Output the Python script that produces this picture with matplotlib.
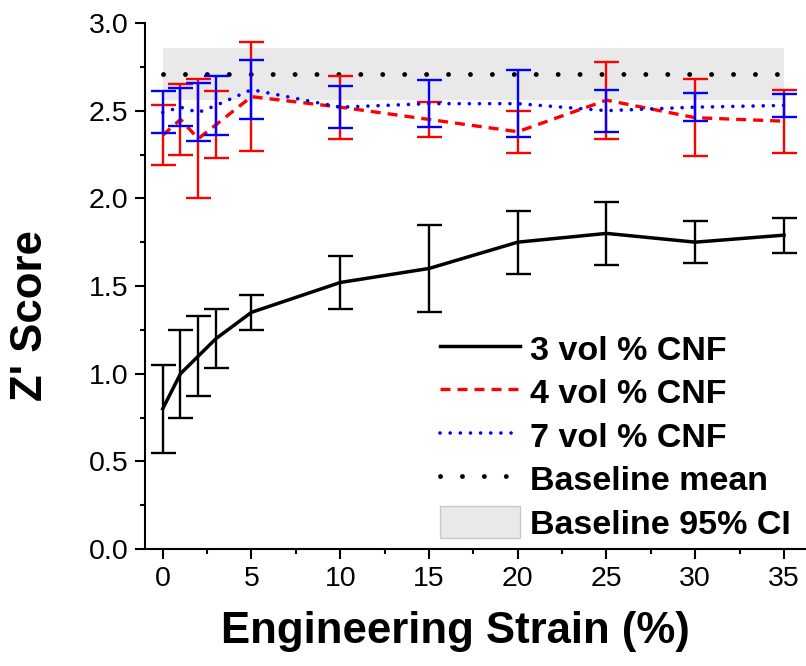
import matplotlib
matplotlib.use('Agg')
import matplotlib.pyplot as plt
from matplotlib.lines import Line2D
from matplotlib.patches import Patch
from matplotlib.ticker import MultipleLocator, FormatStrFormatter

plt.rcParams['font.family'] = ['Liberation Sans', 'DejaVu Sans']

# strain points (%)
strain = [0, 1, 2, 3, 5, 10, 15, 20, 25, 30, 35]

# 3 vol % CNF
z3 = [0.80, 1.00, 1.10, 1.20, 1.35, 1.52, 1.60, 1.75, 1.80, 1.75, 1.79]
e3 = [0.25, 0.25, 0.23, 0.17, 0.10, 0.15, 0.25, 0.18, 0.18, 0.12, 0.10]

# 4 vol % CNF
z4 = [2.36, 2.45, 2.34, 2.42, 2.58, 2.52, 2.45, 2.38, 2.56, 2.46, 2.44]
e4 = [0.17, 0.20, 0.34, 0.19, 0.31, 0.18, 0.10, 0.12, 0.22, 0.22, 0.18]

# 7 vol % CNF
z7 = [2.49, 2.52, 2.49, 2.53, 2.62, 2.52, 2.54, 2.54, 2.50, 2.52, 2.53]
e7 = [0.12, 0.11, 0.165, 0.17, 0.17, 0.12, 0.135, 0.19, 0.12, 0.08, 0.065]

# baseline
base_x = [0, 35]
base_mean = 2.71
base_lo = 2.56
base_hi = 2.86

labels = ['3 vol % CNF', '4 vol % CNF', '7 vol % CNF', 'Baseline mean', 'Baseline 95% CI']

fig = plt.figure(figsize=(8.06, 6.66), dpi=100)
ax = fig.add_axes([145/806, 1-549/666, (806-145)/806, (549-23)/666])

gray = '#e9e9e9'
red_ls = (0, (3.0, 2.1))
blue_ls = (0, (0.01, 2.8))
base_ls = (0, (0.01, 4.5))

ax.fill_between(base_x, base_lo, base_hi, color=gray, lw=0, zorder=1)
ax.plot(base_x, [base_mean, base_mean], color='black', lw=3.5,
        linestyle=base_ls, dash_capstyle='round', zorder=2)

eb = dict(elinewidth=1.7, capsize=9, capthick=1.7)
ax.errorbar(strain, z3, yerr=e3, color='black', lw=2.5, zorder=3, **eb)
ax.errorbar(strain, z4, yerr=e4, color='red', lw=2.4,
            linestyle=red_ls, zorder=4, **eb)
ax.errorbar(strain, z7, yerr=e7, color='blue', lw=2.6,
            linestyle=blue_ls, dash_capstyle='round', zorder=5, **eb)

ax.set_xlim(-1, 36.24)
ax.set_ylim(0, 3.0)
ax.spines['top'].set_visible(False)
ax.spines['right'].set_visible(False)
for s in ['left', 'bottom']:
    ax.spines[s].set_linewidth(1.5)

ax.xaxis.set_major_locator(MultipleLocator(5))
ax.xaxis.set_minor_locator(MultipleLocator(2.5))
ax.yaxis.set_major_locator(MultipleLocator(0.5))
ax.yaxis.set_minor_locator(MultipleLocator(0.25))
ax.yaxis.set_major_formatter(FormatStrFormatter('%.1f'))
ax.tick_params(which='major', direction='out', length=7, width=1.5, labelsize=20.5, pad=5)
ax.tick_params(which='minor', direction='out', length=3.5, width=1.5)

ax.set_xlabel('Engineering Strain (%)', fontsize=31.5, fontweight='bold')
ax.set_ylabel("Z' Score", fontsize=31.5, fontweight='bold')
ax.xaxis.set_label_coords((455-145)/661, -(632-549)/526, transform=ax.transAxes)
ax.yaxis.set_label_coords(-(145-31)/661, (549-316)/526, transform=ax.transAxes)
ax.xaxis.label.set_va('center')
ax.yaxis.label.set_va('center')

handles = [
    Line2D([], [], color='black', lw=2.5),
    Line2D([], [], color='red', lw=2.4, linestyle=red_ls),
    Line2D([], [], color='blue', lw=2.6, linestyle=blue_ls, dash_capstyle='round'),
    Line2D([], [], color='black', lw=3.5, linestyle=base_ls, dash_capstyle='round'),
    Patch(facecolor=gray, edgecolor='#c8c8c8', lw=1),
]
fig.legend(handles, labels, loc='upper left', bbox_to_anchor=(440/806, 1-332/666),
           frameon=False, borderpad=0, borderaxespad=0,
           prop={'weight': 'bold', 'size': 24.5},
           handlelength=2.35, handleheight=1.1, handletextpad=0.3, labelspacing=0.25)

fig.savefig('out.png', dpi=100)
